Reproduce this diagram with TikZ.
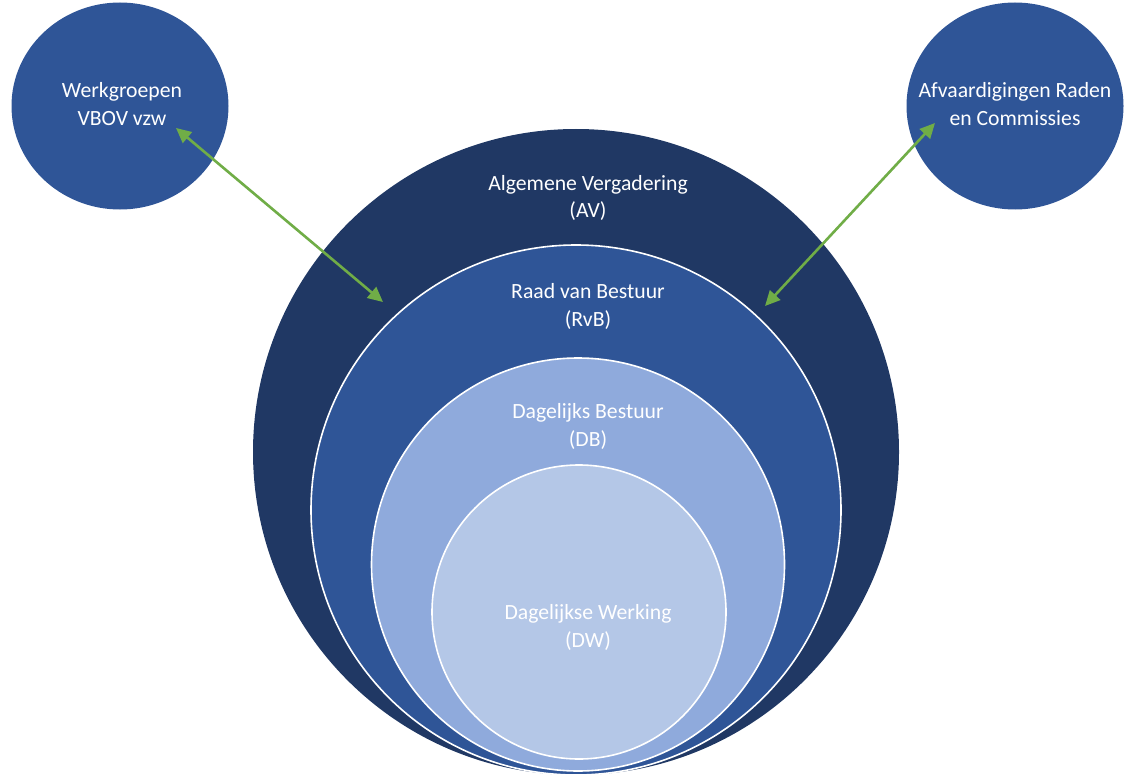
\documentclass[tikz,border=0pt]{standalone}
\usepackage{fontspec}
\setmainfont{Carlito}
\usetikzlibrary{arrows.meta,shapes.geometric}
\definecolor{avcol}{HTML}{203864}
\definecolor{rvbcol}{HTML}{2F5597}
\definecolor{dbcol}{HTML}{8FAADC}
\definecolor{dwcol}{HTML}{B4C7E7}
\definecolor{arrcol}{HTML}{70AD47}
\begin{document}
\begin{tikzpicture}[x=1pt,y=-1pt,
  ring/.style={circle,inner sep=0pt,draw=white,line width=1.6pt},
  side/.style={ellipse,inner sep=0pt,fill=rvbcol,minimum width=217pt,minimum height=207pt},
  lbl/.style={text=white,align=center,anchor=base,inner sep=0pt,font=\fontsize{21.7}{28}\selectfont},
  link/.style={draw=arrcol,line width=2.6pt,{Triangle[length=15pt,width=14pt]}-{Triangle[length=15pt,width=14pt]},shorten <=0pt,shorten >=0pt}]
\useasboundingbox (0,0) rectangle (1137,778);
% big circles
\node[circle,inner sep=0pt,fill=avcol,minimum size=646pt] (av) at (576,452) {};
\node[ring,fill=rvbcol,minimum size=530pt] (rvb) at (576,510) {};
\node[ring,fill=dbcol,minimum size=413pt] (db) at (578,564.5) {};
\node[ring,fill=dwcol,minimum size=294pt] (dw) at (579,612) {};
% side circles
\node[side] (wg) at (120,106) {};
\node[side] (ar) at (1015,106) {};
% labels (anchor base = baseline of the last line)
\node[lbl] (avt) at (588,218) {Algemene Vergadering\\(AV)};
\node[lbl] (rvbt) at (588,326) {Raad van Bestuur\\(RvB)};
\node[lbl] (dbt) at (588,446) {Dagelijks Bestuur\\(DB)};
\node[lbl] (dwt) at (588,647) {Dagelijkse Werking\\(DW)};
\node[lbl] (wgt) at (122,126) {Werkgroepen\\VBOV vzw};
\node[lbl] (art) at (1015,126) {Afvaardigingen Raden\\en Commissies};
% connectors
\coordinate (wgend) at (176,128);
\coordinate (avl) at (383,302);
\coordinate (arend) at (935,123);
\coordinate (avr) at (765,306);
\draw[link] (wgend) -- (avl);
\draw[link] (arend) -- (avr);
\end{tikzpicture}
\end{document}
